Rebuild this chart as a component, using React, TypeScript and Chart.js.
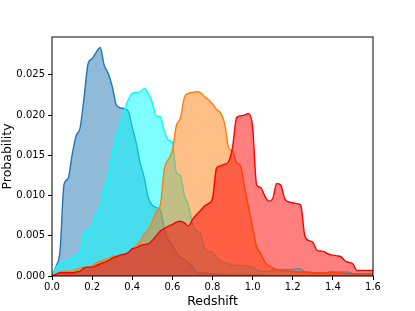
import React, { useEffect, useRef } from "react";
import { Chart, registerables } from "chart.js";

Chart.register(...registerables);

const redshift: number[] = Array.from({ length: 81 }, (_, i) => +(i * 0.02).toFixed(2));

const blueProb: number[] = [
  0, 0.0012, 0.0031, 0.0114, 0.0121, 0.015, 0.0174, 0.0184, 0.0222, 0.0264,
  0.027, 0.0278, 0.0284, 0.0262, 0.0252, 0.0236, 0.0213, 0.0209, 0.0208, 0.0205,
  0.0185, 0.0165, 0.014, 0.0122, 0.0097, 0.0088, 0.0085, 0.0082, 0.0058, 0.0045,
  0.0039, 0.0029, 0.0023, 0.0021, 0.0016, 0.0012, 0.0005, 0.0004, 0.0004, 0.0003,
  0.0003, 0.0002, 0.0002, 0.0002, 0.0001, 0.0001, 0.0001, 0.0001, 0.0001, 0.0001,
  0.0001, 0.0001, 0.0001, 0, 0, 0, 0, 0, 0, 0,
  0, 0, 0, 0, 0, 0, 0, 0, 0, 0,
  0, 0, 0, 0, 0, 0, 0, 0, 0, 0, 0,
];

const cyanProb: number[] = [
  0, 0.001, 0.0017, 0.0018, 0.002, 0.0023, 0.0026, 0.003, 0.0055, 0.0057,
  0.0063, 0.0078, 0.0085, 0.011, 0.0124, 0.0151, 0.0174, 0.0189, 0.0205, 0.0219,
  0.0227, 0.0228, 0.0229, 0.0233, 0.0227, 0.0215, 0.0199, 0.0198, 0.018, 0.0169,
  0.0166, 0.0128, 0.0125, 0.01, 0.0088, 0.0065, 0.0056, 0.0053, 0.0035, 0.0031,
  0.003, 0.0023, 0.0019, 0.0017, 0.0015, 0.0014, 0.0013, 0.0013, 0.0013, 0.0012,
  0.0011, 0.0008, 0.0006, 0.0006, 0.0006, 0.0007, 0.0008, 0.0008, 0.0008, 0.0008,
  0.0008, 0.0009, 0.0009, 0.0005, 0.0004, 0.0003, 0.0003, 0.0003, 0.0003, 0.0005,
  0.0006, 0.0005, 0.0005, 0.0005, 0.0005, 0.0003, 0.0002, 0.0002, 0.0002, 0.0002, 0.0002,
];

const orangeProb: number[] = [
  0, 0.0003, 0.0005, 0.0006, 0.0006, 0.0006, 0.0008, 0.001, 0.0011, 0.0011,
  0.0013, 0.0016, 0.0018, 0.002, 0.0022, 0.0024, 0.0025, 0.0026, 0.0027, 0.0029,
  0.0033, 0.0038, 0.0044, 0.0052, 0.0058, 0.0068, 0.008, 0.0088, 0.0133, 0.0145,
  0.0156, 0.0187, 0.0196, 0.0222, 0.0227, 0.0228, 0.0229, 0.0228, 0.0223, 0.0219,
  0.0214, 0.0207, 0.0203, 0.019, 0.016, 0.0155, 0.0141, 0.0137, 0.011, 0.0085,
  0.006, 0.0036, 0.0028, 0.0018, 0.0013, 0.001, 0.0008, 0.0007, 0.0006, 0.0006,
  0.0006, 0.0005, 0.0005, 0.0005, 0.0005, 0.0004, 0.0004, 0.0004, 0.0004, 0.0004,
  0.0004, 0.0004, 0.0004, 0.0003, 0.0003, 0.0003, 0.0003, 0.0003, 0.0003, 0.0003, 0.0003,
];

const redProb: number[] = [
  0, 0.0002, 0.0004, 0.0004, 0.0004, 0.0004, 0.0005, 0.0006, 0.001, 0.0011,
  0.0011, 0.0013, 0.0015, 0.0017, 0.0019, 0.0022, 0.0024, 0.0026, 0.0027, 0.0029,
  0.0034, 0.0035, 0.0038, 0.0039, 0.004, 0.0044, 0.005, 0.0056, 0.0059, 0.0062,
  0.0064, 0.0067, 0.0068, 0.0066, 0.0062, 0.007, 0.0076, 0.0081, 0.0087, 0.009,
  0.0096, 0.0134, 0.0137, 0.0139, 0.0142, 0.016, 0.0197, 0.0199, 0.02, 0.0202,
  0.0185, 0.0113, 0.011, 0.01, 0.0093, 0.0096, 0.0115, 0.0113, 0.0096, 0.0092,
  0.0091, 0.009, 0.0088, 0.005, 0.0044, 0.0042, 0.0032, 0.0031, 0.003, 0.0027,
  0.0026, 0.0025, 0.0024, 0.0019, 0.0017, 0.0015, 0.0007, 0.0007, 0.0007, 0.0007, 0.0007,
];

const xTicks: number[] = [0, 0.2, 0.4, 0.6, 0.8, 1.0, 1.2, 1.4, 1.6];
const yTicks: number[] = [0, 0.005, 0.01, 0.015, 0.02, 0.025];

const FONT = "'DejaVu Sans', sans-serif";

const boxPlugin = {
  id: "boxPlugin",
  afterDraw(chart: any) {
    const { ctx, chartArea } = chart;
    ctx.save();
    ctx.strokeStyle = "#000";
    ctx.lineWidth = 1;
    ctx.strokeRect(chartArea.left, chartArea.top, chartArea.right - chartArea.left, chartArea.bottom - chartArea.top);
    ctx.restore();
  },
};

function series(values: number[]) {
  return values.map((v, i) => ({ x: redshift[i], y: v }));
}

export default function App() {
  const ref = useRef<HTMLCanvasElement | null>(null);
  useEffect(() => {
    if (!ref.current) return;
    const mk = (label: string, vals: number[], line: string, fill: string) => ({
      label,
      data: series(vals),
      borderColor: line,
      backgroundColor: fill,
      borderWidth: 1.4,
      fill: "origin",
      pointRadius: 0,
      cubicInterpolationMode: "monotone" as const,
    });
    const chart = new Chart(ref.current, {
      type: "line",
      data: {
        datasets: [
          mk("red", redProb, "#ff0000", "rgba(255,0,0,0.5)"),
          mk("orange", orangeProb, "#ff7f0e", "rgba(255,127,14,0.5)"),
          mk("cyan", cyanProb, "#00ffff", "rgba(0,255,255,0.5)"),
          mk("blue", blueProb, "#1f77b4", "rgba(31,119,180,0.5)"),
        ],
      },
      options: {
        animation: false,
        responsive: false,
        devicePixelRatio: 1,
        layout: { padding: { top: 37, right: 42, left: 0, bottom: 0 } },
        plugins: { legend: { display: false }, tooltip: { enabled: false } },
        scales: {
          x: {
            type: "linear",
            min: 0,
            max: 1.6,
            afterFit: (s: any) => { s.height = 35; },
            afterBuildTicks: (s: any) => { s.ticks = xTicks.map((v) => ({ value: v })); },
            border: { display: false },
            grid: { drawOnChartArea: false, drawTicks: true, tickLength: 4, tickColor: "#000", color: "#000" },
            ticks: {
              color: "#000",
              padding: 1,
              maxRotation: 0,
              font: { family: FONT, size: 10 },
              callback: (v: any) => Number(v).toFixed(1),
            },
            title: {
              display: true,
              text: "Redshift",
              color: "#000",
              font: { family: FONT, size: 12.5 },
              padding: { top: 0, bottom: 2 },
            },
          },
          y: {
            type: "linear",
            min: 0,
            max: 0.0297,
            afterFit: (s: any) => { s.width = 52; },
            afterBuildTicks: (s: any) => { s.ticks = yTicks.map((v) => ({ value: v })); },
            border: { display: false },
            grid: { drawOnChartArea: false, drawTicks: true, tickLength: 4, tickColor: "#000", color: "#000" },
            ticks: {
              color: "#000",
              padding: 3,
              font: { family: FONT, size: 10 },
              callback: (v: any) => Number(v).toFixed(3),
            },
            title: {
              display: true,
              text: "Probability",
              color: "#000",
              font: { family: FONT, size: 12.5 },
              padding: { top: 0, bottom: 0 },
            },
          },
        },
      },
      plugins: [boxPlugin],
    });
    return () => chart.destroy();
  }, []);
  return (
    <div style={{ position: "absolute", left: 0, top: 0, width: 415, height: 311, background: "#fff" }}>
      <canvas ref={ref} width={415} height={311} />
    </div>
  );
}
